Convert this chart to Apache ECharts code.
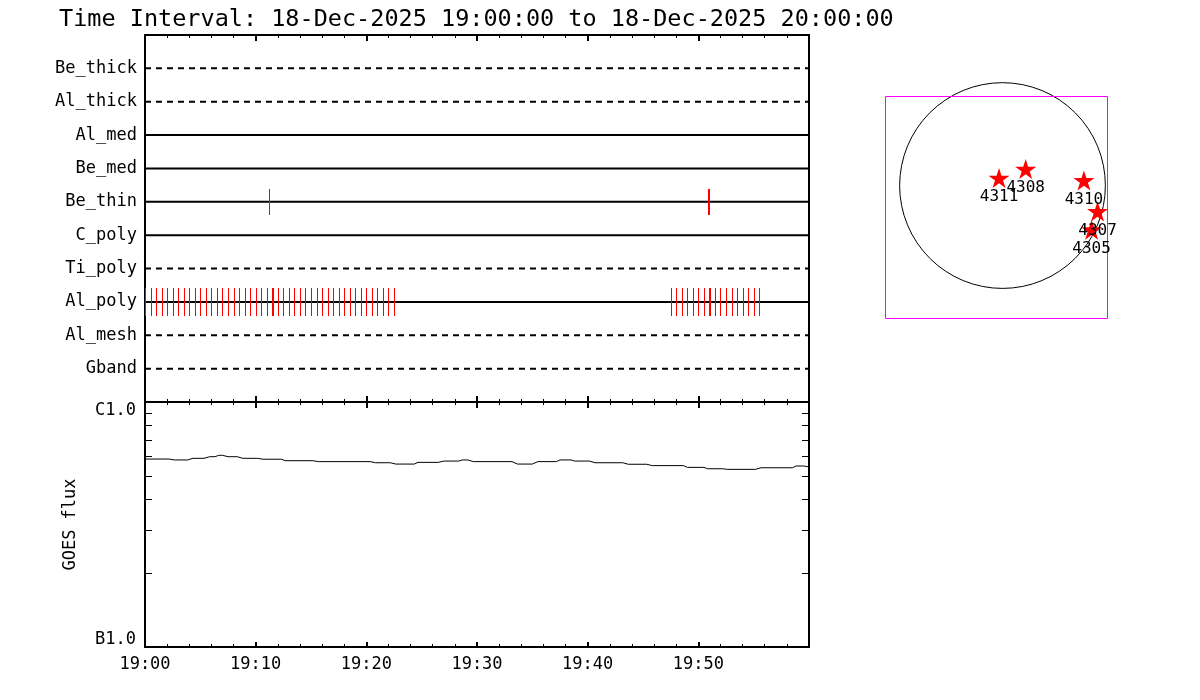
<!DOCTYPE html>
<html><head><meta charset="utf-8">
<script src="https://cdn.jsdelivr.net/npm/echarts@6/dist/echarts.min.js"></script>
<style>html,body{margin:0;padding:0;background:#fff}#c{width:1200px;height:700px}</style>
</head><body><div id="c"></div>
<script>
const titleText = 'Time Interval: 18-Dec-2025 19:00:00 to 18-Dec-2025 20:00:00';
const rowNames = ['Be_thick','Al_thick','Al_med','Be_med','Be_thin','C_poly','Ti_poly','Al_poly','Al_mesh','Gband'];
const rowDashed = [true,true,false,false,false,false,true,false,true,true];
const xTickLabels = ['19:00','19:10','19:20','19:30','19:40','19:50'];
const beThinTimes = ['19:11:14','19:50:50','19:50:56'];
const alPolyTimes = [
 '19:00:00','19:00:30','19:01:00','19:01:30','19:02:00','19:02:30','19:03:00','19:03:30','19:04:00','19:04:30',
 '19:05:00','19:05:30','19:06:00','19:06:30','19:07:00','19:07:30','19:08:00','19:08:30','19:09:00','19:09:30',
 '19:10:00','19:10:30','19:11:00','19:11:30','19:11:35','19:12:00','19:12:30','19:13:00','19:13:30','19:14:00',
 '19:14:30','19:15:00','19:15:30','19:16:00','19:16:30','19:17:00','19:17:30','19:18:00','19:18:30','19:19:00',
 '19:19:30','19:20:00','19:20:30','19:21:00','19:21:30','19:22:00','19:22:30',
 '19:47:30','19:48:00','19:48:30','19:49:00','19:49:30','19:50:00','19:50:30','19:51:00','19:51:05','19:51:30',
 '19:52:00','19:52:30','19:53:00','19:53:30','19:54:00','19:54:30','19:55:00','19:55:30'
];
const goesTimes = [
 '19:00:00','19:02:10','19:02:40','19:03:50','19:04:20','19:05:20','19:05:50','19:06:20','19:06:40','19:07:00',
 '19:07:30','19:08:20','19:08:50','19:10:10','19:10:40','19:12:20','19:12:40','19:15:10','19:15:40','19:20:20',
 '19:20:50','19:22:10','19:22:40','19:24:20','19:24:40','19:26:30','19:27:00','19:28:20','19:28:40','19:29:10',
 '19:29:40','19:33:10','19:33:40','19:35:00','19:35:30','19:37:10','19:37:30','19:38:30','19:38:50','19:40:10',
 '19:40:40','19:43:10','19:43:40','19:45:20','19:45:50','19:48:40','19:49:00','19:50:30','19:50:50','19:52:10',
 '19:52:40','19:55:10','19:55:40','19:58:30','19:58:50','19:59:30','19:59:50','20:00:00'
];
const goesFlux = [
 5.85e-7,5.85e-7,5.80e-7,5.80e-7,5.89e-7,5.89e-7,5.98e-7,5.98e-7,6.06e-7,6.06e-7,
 5.98e-7,5.98e-7,5.89e-7,5.89e-7,5.84e-7,5.84e-7,5.76e-7,5.76e-7,5.71e-7,5.71e-7,
 5.65e-7,5.65e-7,5.58e-7,5.58e-7,5.67e-7,5.67e-7,5.74e-7,5.74e-7,5.80e-7,5.80e-7,
 5.71e-7,5.71e-7,5.58e-7,5.58e-7,5.71e-7,5.71e-7,5.80e-7,5.80e-7,5.74e-7,5.74e-7,
 5.65e-7,5.65e-7,5.57e-7,5.57e-7,5.50e-7,5.50e-7,5.41e-7,5.41e-7,5.34e-7,5.34e-7,
 5.31e-7,5.31e-7,5.39e-7,5.39e-7,5.48e-7,5.48e-7,5.45e-7,5.45e-7
];
const goesMinorTicks = [2e-7,3e-7,4e-7,5e-7,6e-7,7e-7,8e-7,9e-7];
const goesLabelValues = [1e-7,1e-6];
const goesLabels = ['B1.0','C1.0'];
const arNumbers = ['4311','4308','4310','4307','4305'];
const arX = [-32,214,751,877,822];
const arY = [69,152,47,-239,-407];
const fovCenter = [-60,-198];
const fovSize = 2048;
const sunRadius = 949;

function toMin(t){const p=t.split(':').map(Number);return (p[0]-19)*60+p[1]+(p[2]||0)/60;}
const FONT = 'DejaVu Sans Mono';
const BLACK = '#000';
const STAR = 'path://M0,-100 L22.45,-30.9 L95.1,-30.9 L36.3,11.8 L58.8,80.9 L0,38.2 L-58.8,80.9 L-36.3,11.8 L-95.1,-30.9 L-22.45,-30.9 Z';

function timeAxis(gridIndex, position, opts){
  return Object.assign({
    type:'value', gridIndex, position, min:0, max:60, interval:10,
    axisLine:{show:true,onZero:false,lineStyle:{color:BLACK,width:2}},
    axisTick:{show:true,inside:true,length:6,lineStyle:{color:BLACK,width:2}},
    minorTick:{show:true,splitNumber:5,length:3,lineStyle:{color:BLACK,width:1}},
    axisLabel:{show:false}, splitLine:{show:false}, minorSplitLine:{show:false}
  }, opts||{});
}

function tickRender(half){
  return function(params, api){
    const x = api.value(0), y = api.value(1);
    const p0 = api.coord([x, y + half]);
    const p1 = api.coord([x, y - half]);
    const px = Math.round(p0[0]);
    const top = Math.round(p0[1]);
    return {type:'rect', shape:{x:px, y:top, width:1, height:Math.round(p1[1]) - top},
      style:{fill:'#ff0000', stroke:null}};
  };
}

const series = [];
rowNames.forEach((name,i)=>{
  const y = rowNames.length - i;
  series.push({
    name, type:'line', xAxisIndex:0, yAxisIndex:0, silent:true, symbol:'none',
    data:[[0,y],[60,y]],
    lineStyle:{color:BLACK,width:2,type: rowDashed[i] ? [6,5] : 'solid'}
  });
});
const alPolyRow = rowNames.length - rowNames.indexOf('Al_poly');
const beThinRow = rowNames.length - rowNames.indexOf('Be_thin');
series.push({
  name:'Al_poly exposures', type:'custom', xAxisIndex:0, yAxisIndex:0, silent:true,
  renderItem: tickRender(0.42),
  data: alPolyTimes.map(t=>[toMin(t), alPolyRow]), z:5
});
series.push({
  name:'Be_thin exposures', type:'custom', xAxisIndex:0, yAxisIndex:0, silent:true,
  renderItem: tickRender(0.39),
  data: beThinTimes.map(t=>[toMin(t), beThinRow]), z:5
});
series.push({
  name:'GOES', type:'line', xAxisIndex:2, yAxisIndex:2, silent:true, symbol:'none',
  data: goesTimes.map((t,i)=>[toMin(t), goesFlux[i]]),
  lineStyle:{color:BLACK,width:1}
});
series.push({
  name:'limb', type:'custom', xAxisIndex:4, yAxisIndex:4, silent:true, clip:false,
  data:[[0,0,sunRadius]],
  renderItem(params, api){
    const c = api.coord([api.value(0), api.value(1)]);
    const r = api.size([api.value(2), 0])[0];
    return {type:'circle', shape:{cx:c[0],cy:c[1],r}, style:{fill:'none',stroke:BLACK,lineWidth:1}};
  }
});
series.push({
  name:'fov', type:'custom', xAxisIndex:4, yAxisIndex:4, silent:true, clip:false,
  data:[[fovCenter[0], fovCenter[1], fovSize]],
  renderItem(params, api){
    const s = api.value(2);
    const tl = api.coord([api.value(0)-s/2, api.value(1)+s/2]);
    const sz = api.size([s, s]);
    return {type:'rect', shape:{x:Math.round(tl[0])+0.5,y:Math.round(tl[1])+0.5,width:Math.round(sz[0]),height:Math.round(sz[1])}, style:{fill:'none',stroke:'#ff00ff',lineWidth:1}};
  }
});
series.push({
  name:'AR', type:'scatter', xAxisIndex:4, yAxisIndex:4, silent:true,
  symbol: STAR, symbolSize:[21,20],
  itemStyle:{color:'#ff0000', opacity:1},
  data: arX.map((x,i)=>[x, arY[i]]),
  label:{show:true, position:'bottom', distance:1, formatter:p=>arNumbers[p.dataIndex],
    fontFamily:FONT, fontSize:16, color:BLACK},
  z:10
});

const option = {
  animation:false,
  backgroundColor:'#fff',
  textStyle:{fontFamily:FONT},
  title:{text:titleText,left:54,top:3,textStyle:{fontFamily:FONT,fontSize:23.5,fontWeight:'normal',color:BLACK}},
  grid:[
    {left:145, top:35, width:664, height:367},
    {left:145, top:402, width:664, height:245},
    {left:885, top:96, width:222, height:222}
  ],
  xAxis:[
    timeAxis(0,'bottom'),
    timeAxis(0,'top'),
    timeAxis(1,'bottom',{
      axisTick:{show:true,inside:true,length:5,lineStyle:{color:BLACK,width:2}},
      minorTick:{show:true,splitNumber:5,length:3,lineStyle:{color:BLACK,width:1}},
      axisLabel:{show:true,margin:9,fontFamily:FONT,fontSize:17,color:BLACK,
        formatter:v=>xTickLabels[Math.round(v/10)]||''}
    }),
    timeAxis(1,'top'),
    {type:'value', gridIndex:2, min:fovCenter[0]-fovSize/2, max:fovCenter[0]+fovSize/2, show:false}
  ],
  yAxis:[
    {type:'value', gridIndex:0, position:'left', min:0, max:11,
      axisLine:{show:true,onZero:false,lineStyle:{color:BLACK,width:2}},
      axisTick:{show:false}, splitLine:{show:false},
      axisLabel:{show:true, margin:8, fontFamily:FONT, fontSize:17, color:BLACK,
        customValues: rowNames.map((n,i)=>rowNames.length-i),
        formatter:v=>rowNames[rowNames.length-Math.round(v)]}
    },
    {type:'value', gridIndex:0, position:'right', min:0, max:11,
      axisLine:{show:true,onZero:false,lineStyle:{color:BLACK,width:2}},
      axisTick:{show:false}, axisLabel:{show:false}, splitLine:{show:false}},
    {type:'log', logBase:10, gridIndex:1, position:'left', min:1e-7, max:1e-6,
      name:'GOES flux', nameLocation:'middle', nameGap:66, nameRotate:90,
      nameTextStyle:{fontFamily:FONT,fontSize:17,color:BLACK},
      axisLine:{show:true,onZero:false,lineStyle:{color:BLACK,width:2}},
      axisTick:{show:true,inside:true,length:7,customValues:goesMinorTicks,lineStyle:{color:BLACK,width:1}},
      splitLine:{show:false},
      axisLabel:{show:true, margin:9, fontFamily:FONT, fontSize:17, color:BLACK,
        customValues:goesLabelValues,
        formatter:v=> v > 5e-7 ? '{c|'+goesLabels[1]+'}' : '{b|'+goesLabels[0]+'}',
        rich:{c:{fontFamily:FONT,fontSize:17,color:BLACK,padding:[18,0,0,0]},
              b:{fontFamily:FONT,fontSize:17,color:BLACK,padding:[0,0,14,0]}}}
    },
    {type:'log', logBase:10, gridIndex:1, position:'right', min:1e-7, max:1e-6,
      axisLine:{show:true,onZero:false,lineStyle:{color:BLACK,width:2}},
      axisTick:{show:true,inside:true,length:7,customValues:goesMinorTicks,lineStyle:{color:BLACK,width:1}},
      splitLine:{show:false}, axisLabel:{show:false}},
    {type:'value', gridIndex:2, min:fovCenter[1]-fovSize/2, max:fovCenter[1]+fovSize/2, show:false}
  ],
  series
};
const chart = echarts.init(document.getElementById('c'), null, {renderer:'canvas'});
chart.setOption(option);
</script></body></html>
